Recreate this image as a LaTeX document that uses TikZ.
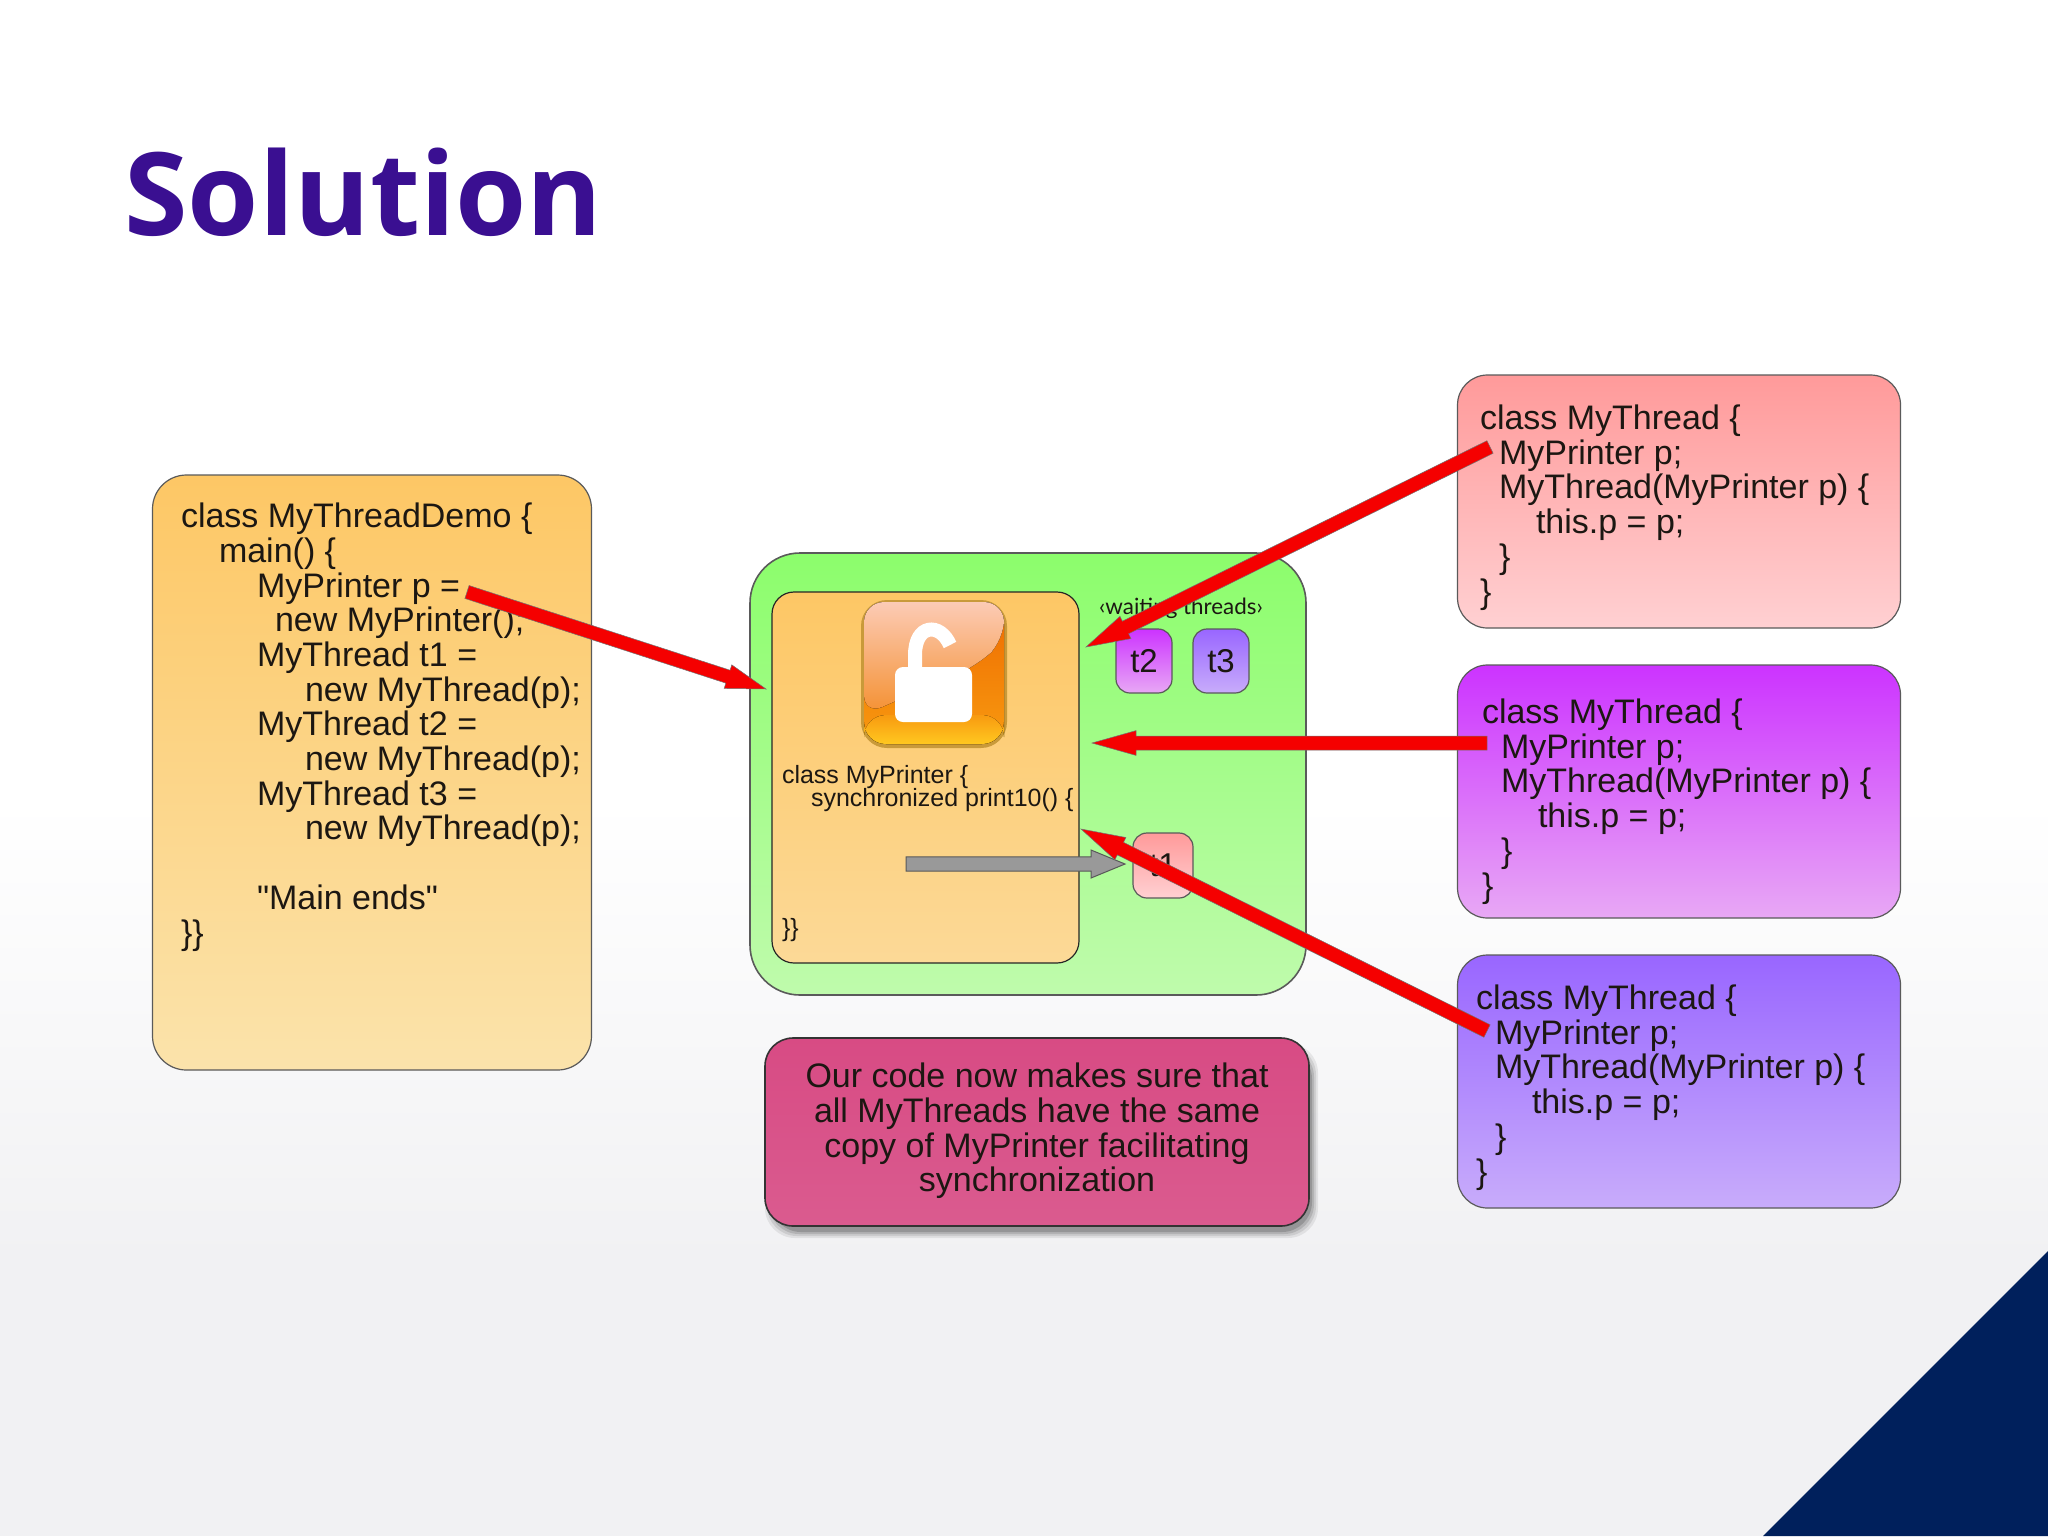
\documentclass[tikz,border=0pt]{standalone}
\usepackage{fontspec}
\setmainfont{Liberation Sans}
\newfontfamily\plainfont{Liberation Sans}
\newfontfamily\titlefont{Open Sans}
\newfontfamily\waitfont{Lato}
\usetikzlibrary{calc,shadows}
\definecolor{txt}{HTML}{1C1712}
\definecolor{titlecol}{HTML}{3A0F91}
\definecolor{navy}{HTML}{00205C}
\definecolor{edge}{HTML}{5A5A5A}
\definecolor{redarrow}{HTML}{F50000}
\definecolor{bggrey}{HTML}{F1F1F3}
\definecolor{orangetop}{HTML}{FDC765}
\definecolor{orangebot}{HTML}{FBE3AB}
\definecolor{orangebotb}{HTML}{FCD997}
\definecolor{greentop}{HTML}{8CFD6C}
\definecolor{greenbot}{HTML}{BFFBAC}
\definecolor{pinktop}{HTML}{FF9A9A}
\definecolor{pinkbot}{HTML}{FFD0D2}
\definecolor{purptop}{HTML}{CC33FF}
\definecolor{purpbot}{HTML}{E8A8F5}
\definecolor{bluetop}{HTML}{9966FF}
\definecolor{bluebot}{HTML}{C8ACFB}
\definecolor{notetop}{HTML}{D84B84}
\definecolor{notebot}{HTML}{DA5B8F}
\definecolor{lockA}{HTML}{EE6A00}
\definecolor{lockM}{HTML}{F89A10}
\definecolor{lockB}{HTML}{FFC820}
\definecolor{lockC}{HTML}{FCCBB5}
\definecolor{lockD}{HTML}{F49030}
\definecolor{lockE}{HTML}{C99A3A}
\tikzset{
  box/.style={draw=edge,line width=0.6pt,inner sep=0pt,outer sep=0pt},
  leftbox/.style={box,rounded corners=17pt,minimum width=219.5pt,minimum height=297.5pt,top color=orangetop,bottom color=orangebot},
  threadbox/.style={box,rounded corners=15pt,minimum width=221.5pt,minimum height=126.5pt},
  tbox/.style={box,rounded corners=7pt,text=txt,font=\fontsize{16.5pt}{17pt}\selectfont},
  code/.style={anchor=base west,inner sep=0pt,outer sep=0pt,align=left,text=txt,font=\fontsize{17pt}{17.35pt}\selectfont},
  smallcode/.style={anchor=base west,inner sep=0pt,outer sep=0pt,text=txt,font=\fontsize{12.5pt}{13pt}\selectfont},
  redshape/.style={fill=redarrow,draw=black!55,line width=0.25pt,line join=miter},
  greyshape/.style={fill=black!40,draw=black!65,line width=0.5pt},
}
% block arrow: from, to, half shaft, head length, half head, style
\newcommand\blockarrow[6]{%
  \coordinate (ba) at ($(#2)!#4!(#1)$);
  \path[#6] ($(#1)!#3!90:(#2)$) -- ($(ba)!#3!90:(#2)$) -- ($(ba)!#5!90:(#2)$) -- (#2)
     -- ($(ba)!#5!-90:(#2)$) -- ($(ba)!#3!-90:(#2)$) -- ($(#1)!#3!-90:(#2)$) -- cycle;}
\newcommand\threadcode{class MyThread \{\\
\hspace*{9.5pt}MyPrinter p;\\
\hspace*{9.5pt}MyThread(MyPrinter p) \{\\
\hspace*{28pt}this.p = p;\\
\hspace*{9.5pt}\}\\
\}}
\begin{document}
\begin{tikzpicture}[x=0.5pt,y=-0.5pt]
\useasboundingbox (0,0) rectangle (2048,1536);
% background
\fill[white] (0,0) rectangle (2048,800);
\fill[top color=white,bottom color=bggrey] (0,800) rectangle (2048,1260);
\fill[bggrey] (0,1259) rectangle (2048,1536);
\fill[navy] (1763,1536) -- (2048,1251) -- (2048,1536) -- cycle;
% title
\node[anchor=base west,inner sep=0pt,text=titlecol,font=\titlefont\bfseries\fontsize{57.6pt}{60pt}\selectfont] (title) at (124,235) {Solution};
% left box
\node[leftbox] (demo) at (372,772.5) {};
\node[code] (demotext) at (181,944) {class MyThreadDemo \{\\
\hspace*{19pt}main() \{\\
\hspace*{38pt}MyPrinter p =\\
\hspace*{47pt}new MyPrinter();\\
\hspace*{38pt}MyThread t1 =\\
\hspace*{62pt}new MyThread(p);\\
\hspace*{38pt}MyThread t2 =\\
\hspace*{62pt}new MyThread(p);\\
\hspace*{38pt}MyThread t3 =\\
\hspace*{62pt}new MyThread(p);\\
\mbox{}\\
\hspace*{38pt}{\plainfont "Main ends"}\\
\}\}};
% green monitor box
\node[box,line width=0.8pt,rounded corners=25pt,minimum width=278pt,minimum height=221pt,top color=greentop,bottom color=greenbot] (monitor) at (1028,774) {};
% printer box
\node[box,draw=black!85,rounded corners=11pt,minimum width=153.5pt,minimum height=185.5pt,top color=orangetop,bottom color=orangebotb] (printer) at (925.5,777.5) {};
% lock icon
\fill[rounded corners=13pt,lockE] (861,600) rectangle (1007,748);
\fill[rounded corners=11pt,top color=lockA,bottom color=lockM] (864,602) rectangle (1004,744);
\fill[rounded corners=11pt,top color=lockM,bottom color=lockB] (864,715) rectangle (1004,744);
\fill[rounded corners=10pt,top color=lockC,bottom color=lockD] (864,602) -- (1004,602) -- (1004,640) -- (978,665) -- (864,715) -- cycle;
\fill[white,rounded corners=4pt] (895,667) rectangle (972,722);
\draw[white,line width=7pt] (915,672) -- (915,655) .. controls (915,624) and (940,622) .. (950,645);
% printer text
\node[smallcode] (printerline) at (782,783) {class MyPrinter \{};
\node[smallcode] (printersync) at (811,806) {synchronized print10() \{};
\node[smallcode] (printerclose) at (782,936) {\}\}};
% waiting threads
\node[inner sep=0pt,text=txt,font=\waitfont\fontsize{11.2pt}{12pt}\selectfont] (waiting) at (1181,608) {‹waiting threads›};
\node[tbox,minimum width=28pt,minimum height=32pt,top color=purptop,bottom color=purpbot] (t2) at (1144,661) {t2};
\node[tbox,minimum width=28pt,minimum height=32pt,top color=bluetop,bottom color=bluebot] (t3) at (1221,661) {t3};
\node[tbox,minimum width=30pt,minimum height=32.5pt,top color=pinktop,bottom color=pinkbot] (t1) at (1163,865.5) {t1};
% thread boxes
\node[threadbox,top color=pinktop,bottom color=pinkbot] (pinkbox) at (1679,501.5) {};
\node[code] (pinktext) at (1480,603) {\threadcode};
\node[threadbox,top color=purptop,bottom color=purpbot] (purplebox) at (1679,791.5) {};
\node[code] (purpletext) at (1482,897) {\threadcode};
\node[threadbox,top color=bluetop,bottom color=bluebot] (bluebox) at (1679,1081.5) {};
\node[code] (bluetext) at (1476,1183) {\threadcode};
% note shadow
\foreach \g/\o in {7/0.07,5/0.09,3/0.12,1/0.16}{
  \fill[black,opacity=\o,rounded corners=15pt] (772-\g,1050-\g) rectangle (1311+\g,1231+\g);
}
% note
\node[box,draw=black!80,line width=0.8pt,rounded corners=14pt,minimum width=272pt,minimum height=94pt,top color=notetop,bottom color=notebot] (note) at (1037,1132) {};
\node[align=center,inner sep=0pt,text=txt,font=\fontsize{17pt}{17.35pt}\selectfont] (notetext) at (1037,1131) {Our code now makes sure that\\all MyThreads have the same\\copy of MyPrinter facilitating\\synchronization};
% arrows
\coordinate (a1s) at (467,592); \coordinate (a1e) at (766,689);
\coordinate (a2s) at (1490,447); \coordinate (a2e) at (1086,647);
\coordinate (a3s) at (1487,743); \coordinate (a3e) at (1092,743);
\coordinate (a4s) at (1487,1031); \coordinate (a4e) at (1081,829);
\coordinate (gs) at (906,864); \coordinate (ge) at (1125,864);
\blockarrow{gs}{ge}{3.6pt}{17pt}{7pt}{greyshape}
\blockarrow{a1s}{a1e}{3.4pt}{20pt}{6.2pt}{redshape}
\blockarrow{a2s}{a2e}{3.5pt}{22pt}{6.2pt}{redshape}
\blockarrow{a3s}{a3e}{3.5pt}{22pt}{6.2pt}{redshape}
\blockarrow{a4s}{a4e}{3.5pt}{22pt}{6.2pt}{redshape}
\end{tikzpicture}
\end{document}
